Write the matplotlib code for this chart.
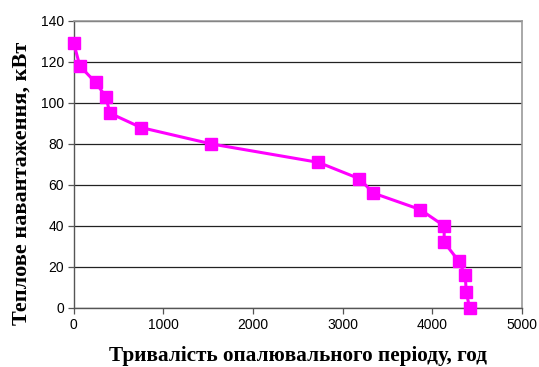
import matplotlib.pyplot as plt

# duration of heating period (hours) and heat load (kW)
hours = [0, 67, 242, 358, 402, 749, 1534, 2730, 3188, 3344, 3866, 4134, 4134, 4294, 4369, 4380, 4417]
load = [129, 118, 110, 103, 95, 88, 80, 71, 63, 56, 48, 40, 32, 23, 16, 8, 0]

x_ticks = [0, 1000, 2000, 3000, 4000, 5000]
y_ticks = [0, 20, 40, 60, 80, 100, 120, 140]

fig = plt.figure(figsize=(5.39, 3.67), dpi=100)
ax = fig.add_axes([0.137, 0.161, 0.831, 0.782])

ax.plot(hours, load, color='#FF00FF', lw=2.2, marker='s', ms=8.5,
        markerfacecolor='#FF00FF', markeredgecolor='#FF00FF', zorder=3, clip_on=False)

ax.set_xlim(0, 5000)
ax.set_ylim(0, 140)
ax.set_xticks(x_ticks)
ax.set_yticks(y_ticks)
ax.yaxis.grid(True, color='#222222', lw=0.9)
ax.set_axisbelow(True)

for s in ['top', 'right']:
    ax.spines[s].set_color('#999999')
    ax.spines[s].set_linewidth(1.2)
for s in ['left', 'bottom']:
    ax.spines[s].set_color('#555555')
    ax.spines[s].set_linewidth(1.0)

ax.tick_params(axis='both', direction='out', length=4, width=0.9, color='#555555',
               labelsize=10, pad=3)
for lab in ax.get_xticklabels() + ax.get_yticklabels():
    lab.set_fontfamily('Liberation Sans')

ax.set_xlabel('Тривалість опалювального періоду, год', fontsize=15.3, fontweight='bold',
              family='Liberation Serif', labelpad=10)
ax.set_ylabel('Теплове навантаження, кВт', fontsize=16, fontweight='bold',
              family='Liberation Serif')
ax.yaxis.set_label_coords(-0.095, 0.435)

fig.savefig('out.png', dpi=100)
